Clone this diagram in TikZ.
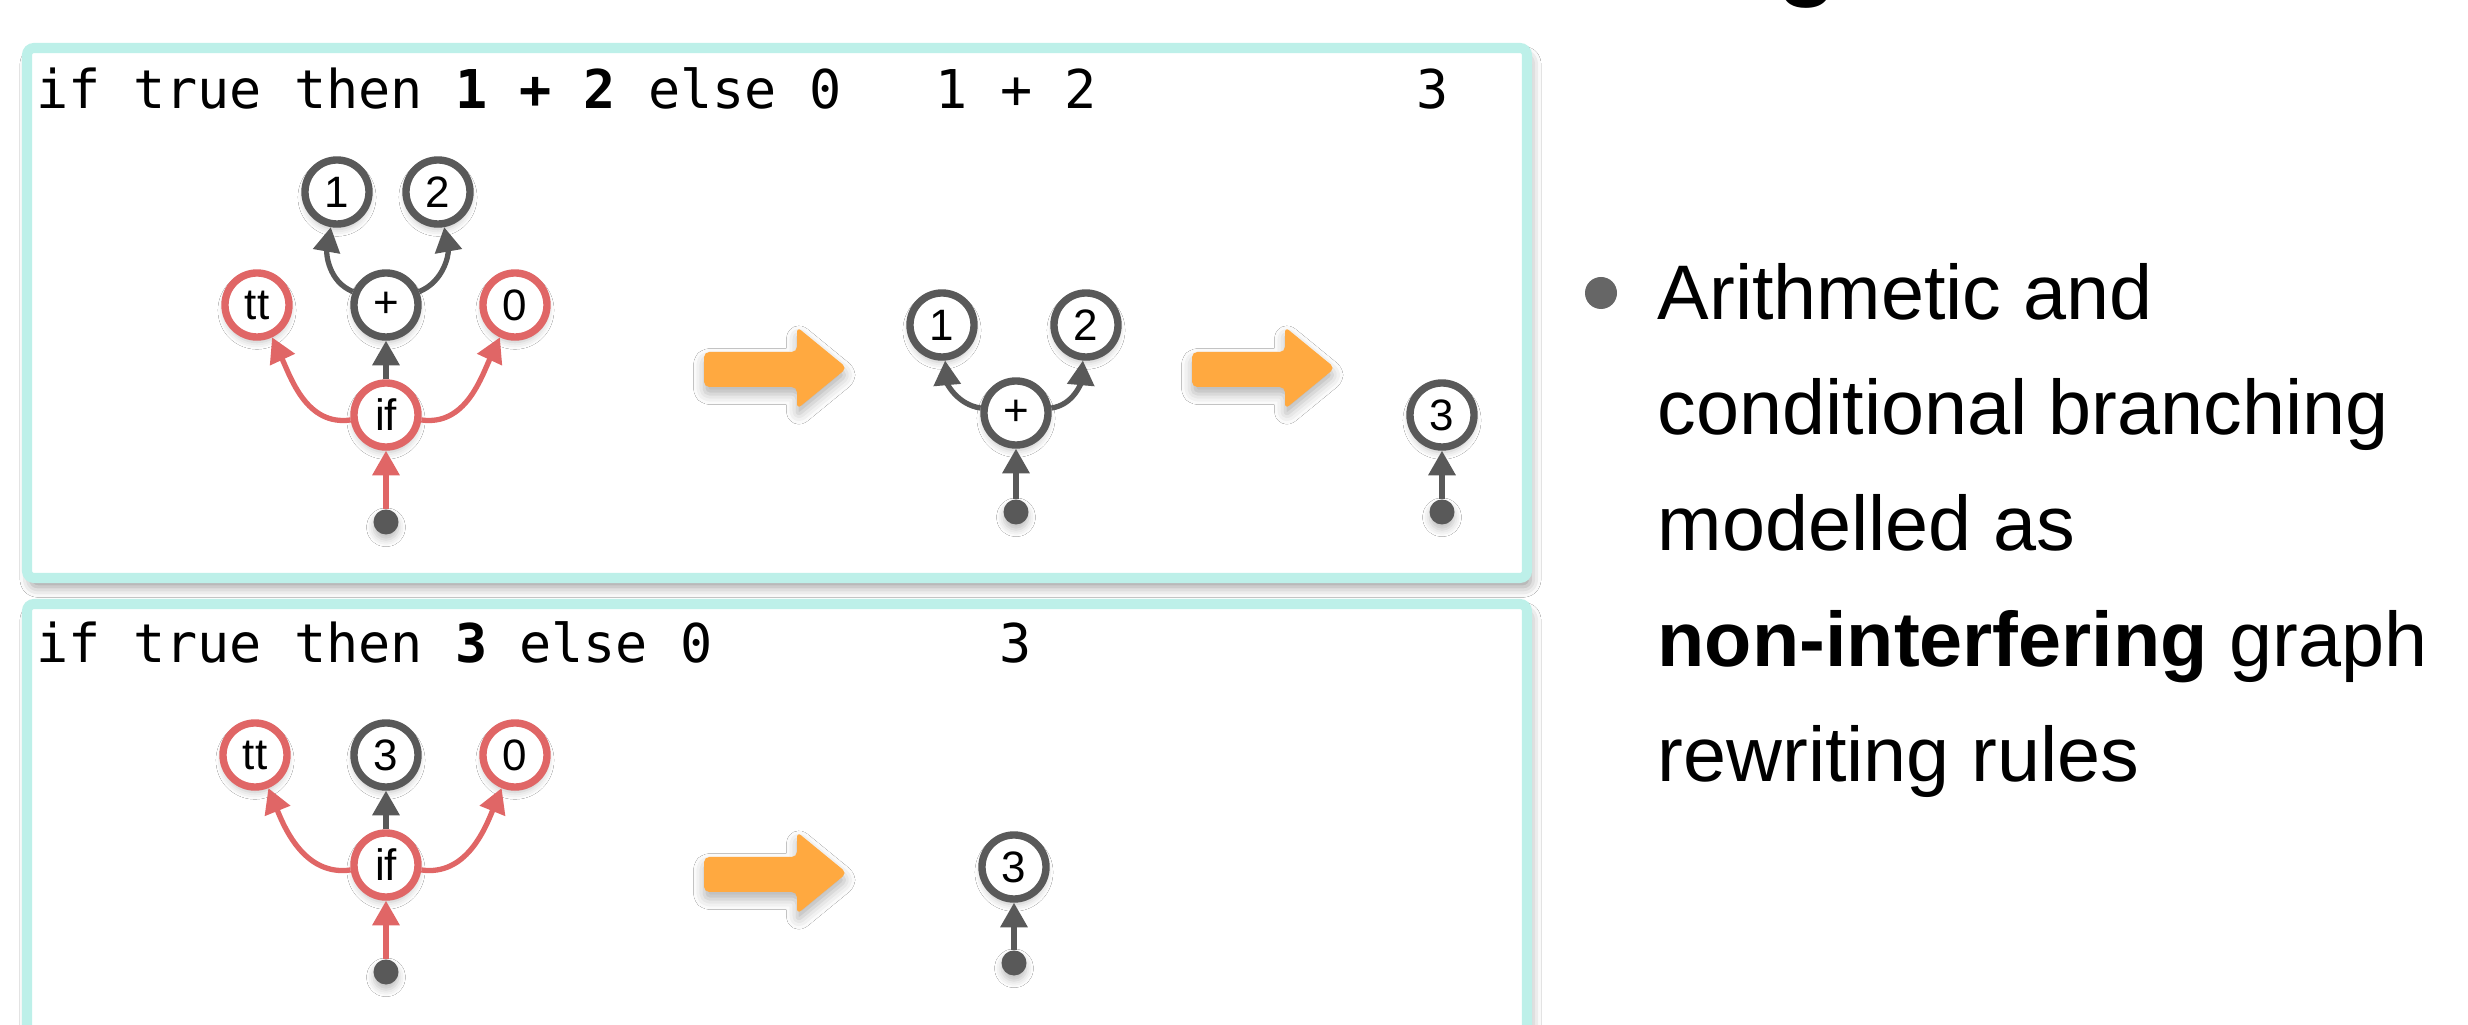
\documentclass[tikz,border=0pt]{standalone}
\usepackage{fontspec}
\setmainfont{Liberation Sans}
\newfontfamily\codefont{DejaVu Sans Mono}
\usetikzlibrary{arrows.meta,shadows.blur}
\definecolor{tealc}{HTML}{BDF0E9}
\definecolor{redc}{HTML}{E06666}
\definecolor{grayc}{HTML}{595959}
\definecolor{orangec}{HTML}{FFA940}
\definecolor{bulletc}{HTML}{666666}
\tikzset{
  boxst/.style={draw=tealc, line width=2.85pt, fill=white, rounded corners=2pt,
    blur shadow={shadow xshift=1pt, shadow yshift=-2.5pt, shadow blur radius=3pt, shadow opacity=40}},
  gnode/.style={circle, draw=grayc, line width=2.1pt, fill=white, minimum size=0.64cm, inner sep=0pt,
    font=\fontsize{12.5}{14}\selectfont,
    blur shadow={shadow xshift=0pt, shadow yshift=-1.5pt, shadow blur radius=2pt, shadow opacity=25}},
  rnode/.style={gnode, draw=redc},
  dotn/.style={circle, fill=grayc, minimum size=0.25cm, inner sep=0pt,
    blur shadow={shadow xshift=0pt, shadow yshift=-1.5pt, shadow blur radius=2pt, shadow opacity=25}},
  garr/.style={draw=grayc, line width=1.5pt, -{Triangle[width=7.5pt,length=7pt]}},
  rarr/.style={garr, draw=redc},
  codetxt/.style={anchor=base west, inner sep=0pt, font=\codefont\fontsize{15.2}{18}\selectfont},
  orangearrow/.pic={
    \fill[orangec, rounded corners=1.5pt,
      blur shadow={shadow xshift=0pt, shadow yshift=-2pt, shadow blur radius=3pt, shadow opacity=30}]
      (0,0) -- (93,0) -- (93,25) -- (143,-16) -- (93,-57) -- (93,-35) -- (0,-35) -- cycle;
  }
}
\begin{document}
\begin{tikzpicture}[x=0.01cm,y=0.01cm]
\useasboundingbox (0,0) rectangle (2468,-1025);
\clip (0,0) rectangle (2468,-1025);
\fill[white] (0,0) rectangle (2468,-1025);

% title fragment
\node[anchor=base, inner sep=0pt, font=\bfseries\fontsize{28}{30}\selectfont] (title) at (1808,12) {g};

% boxes
\draw[boxst] (27,-48) rectangle (1527,-578);
\draw[boxst] (27,-604) rectangle (1527,-1060);

% ---------- panel 1 ----------
\node[codetxt] (code1) at (36,-109) {if true then \textbf{1 + 2} else 0};
\node[codetxt] (res1a) at (935,-109) {1 + 2};
\node[codetxt] (res1b) at (1416,-109) {3};

\node[gnode] (a1) at (337,-192) {1};
\node[gnode] (a2) at (438,-192) {2};
\node[rnode] (att) at (257,-305) {tt};
\node[gnode] (aplus) at (386,-305) {+};
\node[rnode] (azero) at (515,-305) {0};
\node[rnode] (aif) at (386,-415) {if};
\node[dotn] (adot) at (386,-522) {};
\draw[garr] (aif) -- (aplus);
\draw[garr] (aplus) to[out=158,in=-100] (a1);
\draw[garr] (aplus) to[out=22,in=-80] (a2);
\draw[rarr] (aif) to[out=188,in=-65] (att);
\draw[rarr] (aif) to[out=-8,in=-115] (azero);
\draw[rarr] (adot) -- (aif);

\pic at (704,-352) {orangearrow};

\node[gnode] (b1) at (942,-325) {1};
\node[gnode] (b2) at (1086,-325) {2};
\node[gnode] (bplus) at (1016,-413) {+};
\node[dotn] (bdot) at (1016,-512) {};
\draw[garr] (bplus) to[out=172,in=-85] (b1);
\draw[garr] (bplus) to[out=8,in=-95] (b2);
\draw[garr] (bdot) -- (bplus);

\pic at (1192,-352) {orangearrow};

\node[gnode] (c3) at (1442,-415) {3};
\node[dotn] (cdot) at (1442,-512) {};
\draw[garr] (cdot) -- (c3);

% ---------- panel 2 ----------
\node[codetxt] (code2) at (36,-663) {if true then \textbf{3} else 0};
\node[codetxt] (res2) at (999,-663) {3};

\node[rnode] (dtt) at (255,-755) {tt};
\node[gnode] (d3) at (386,-755) {3};
\node[rnode] (dzero) at (515,-755) {0};
\node[rnode] (dif) at (386,-865) {if};
\node[dotn] (ddot) at (386,-972) {};
\draw[garr] (dif) -- (d3);
\draw[rarr] (dif) to[out=188,in=-68] (dtt);
\draw[rarr] (dif) to[out=-8,in=-112] (dzero);
\draw[rarr] (ddot) -- (dif);

\pic at (704,-857) {orangearrow};

\node[gnode] (e3) at (1014,-867) {3};
\node[dotn] (edot) at (1014,-963) {};
\draw[garr] (edot) -- (e3);

% ---------- right text ----------
\node[circle, fill=bulletc, minimum size=0.32cm, inner sep=0pt] (bullet) at (1601,-293) {};
\node[anchor=base west, inner sep=0pt, align=left, font=\fontsize{22}{32.9}\selectfont] (desc) at (1657,-782)
  {Arithmetic and\\conditional branching\\modelled as\\\textbf{non-interfering} graph\\rewriting rules};
\end{tikzpicture}
\end{document}
